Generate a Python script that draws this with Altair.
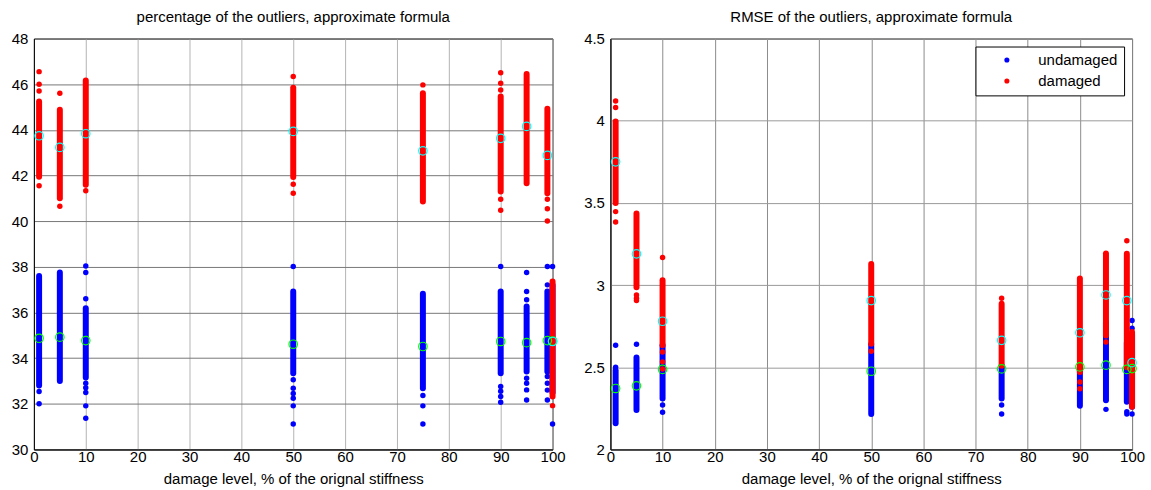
import altair as alt
import pandas as pd

# damage levels (% of the original stiffness) at which each cloud was computed
levels = [1, 5, 10, 50, 75, 90, 95, 99, 100]

# ---------- percentage of the outliers ----------
# continuous part of each cloud (low / high end)
pct_und_lo = [32.8, 33.0, 33.15, 33.34, 32.68, 33.34, 33.41, 33.41, 32.5]
pct_und_hi = [37.6, 37.75, 36.19, 36.92, 36.82, 36.92, 36.26, 36.92, 37.2]
pct_dam_lo = [41.95, 41.0, 41.6, 41.93, 40.86, 41.3, 41.66, 41.22, 32.32]
pct_dam_hi = [45.24, 44.88, 46.16, 45.85, 45.6, 45.46, 46.45, 44.92, 37.36]
# isolated samples outside the continuous part
pct_und_sparse = {
    1: [32.54, 32.0],
    10: [38.04, 37.75, 36.6, 32.9, 32.7, 32.5, 31.91, 31.37],
    50: [38.01, 33.05, 32.68, 32.45, 32.24, 31.91, 31.12],
    75: [32.36, 31.91, 31.12],
    90: [38.01, 32.76, 32.55, 32.32, 32.07],
    95: [37.75, 36.92, 36.56, 33.12, 32.9, 32.61, 32.17],
    99: [38.01, 37.21, 33.2, 32.9, 32.6, 32.17],
    100: [38.01, 31.12],
}
pct_dam_sparse = {
    1: [46.55, 46.0, 45.7, 41.55],
    5: [45.6, 40.65],
    10: [41.33],
    50: [46.34, 41.62, 41.22],
    75: [45.97],
    90: [46.5, 46.04, 45.75, 40.96, 40.48],
    99: [40.96, 40.54, 40.01],
    100: [31.92],
}
pct_und_mean = [34.87, 34.92, 34.77, 34.61, 34.51, 34.73, 34.68, 34.77, 34.75]
pct_dam_mean = [43.74, 43.23, 43.83, 43.93, 43.08, 43.63, 44.15, 42.88, 34.73]

# ---------- RMSE of the outliers ----------
rmse_und_lo = [2.16, 2.24, 2.31, 2.216, 2.31, 2.266, 2.3, 2.29, 2.26]
rmse_und_hi = [2.48, 2.56, 2.634, 2.64, 2.51, 2.5, 2.775, 2.65, 2.7]
rmse_dam_lo = [3.5, 2.987, 2.634, 2.643, 2.51, 2.472, 2.694, 2.5, 2.26]
rmse_dam_hi = [3.996, 3.436, 3.03, 3.128, 2.886, 3.04, 3.193, 3.19, 2.714]
rmse_und_sparse = {
    1: [2.634, 2.5],
    5: [2.64],
    10: [2.27, 2.226],
    75: [2.27, 2.216],
    95: [2.244],
    99: [2.23, 2.216],
    100: [2.785, 2.738, 2.216],
}
rmse_dam_sparse = {
    1: [4.12, 4.08, 3.447, 3.384],
    5: [2.94, 2.92, 2.906],
    10: [3.168, 2.593, 2.533, 2.49],
    50: [2.597],
    75: [2.92],
    90: [2.41, 2.37],
    95: [2.654],
    99: [3.27],
}
rmse_und_mean = [2.371, 2.387, 2.487, 2.476, 2.49, 2.502, 2.513, 2.487, 2.492]
rmse_dam_mean = [3.75, 3.19, 2.78, 2.906, 2.664, 2.71, 2.94, 2.906, 2.528]

x_ticks = list(range(0, 101, 10))
pct_ticks = list(range(30, 49, 2))
rmse_ticks = [2, 2.5, 3, 3.5, 4, 4.5]

BLUE, RED, CYAN, GREEN = "#0000ff", "#ff0000", "#00ffff", "#00ff00"
FONT = "Liberation Sans"
SERIES = ["undamaged", "damaged"]


def spans(lo, hi):
    return pd.DataFrame({"level": levels, "lo": lo, "hi": hi})


def dots(sparse, name):
    rows = [(k, v) for k, vs in sparse.items() for v in vs]
    return pd.DataFrame(rows, columns=["level", "value"]).assign(series=name)


def means(vals):
    return pd.DataFrame({"level": levels, "value": vals})


def panel(title, ydom, yticks, und, dam, w, h, legend, xgrid, ygrid):
    x = alt.X(
        "level:Q",
        scale=alt.Scale(domain=[0, 100], nice=False, zero=False, padding=0),
        axis=alt.Axis(values=x_ticks, title="damage level, % of the orignal stiffness",
                      gridColor=xgrid, format="d", labelPadding=0, titlePadding=7,
                      labelFlush=False, labelOverlap=False),
    )
    yscale = alt.Scale(domain=ydom, nice=False, zero=False, padding=0)
    yaxis = alt.Axis(values=yticks, title=None, gridColor=ygrid, format="~g",
                     minExtent=28, maxExtent=28, labelPadding=6,
                     labelFlush=False, labelOverlap=False)
    color = alt.Color("series:N", scale=alt.Scale(domain=SERIES, range=[BLUE, RED]),
                      legend=legend)

    layers = []
    for (lo, hi, sparse, _), name, col in zip([und, dam], SERIES, [BLUE, RED]):
        layers.append(
            alt.Chart(spans(lo, hi))
            .mark_rule(strokeWidth=6, strokeCap="round", color=col)
            .encode(x=x, y=alt.Y("lo:Q", scale=yscale, axis=yaxis), y2="hi:Q")
        )
        layers.append(
            alt.Chart(dots(sparse, name))
            .mark_circle(size=30, opacity=1)
            .encode(x=x, y=alt.Y("value:Q", scale=yscale, axis=yaxis), color=color)
        )
    for (_, _, _, mv), col in zip([und, dam], [GREEN, CYAN]):
        layers.append(
            alt.Chart(means(mv))
            .mark_point(shape="circle", filled=False, size=72, strokeWidth=1.2, color=col, opacity=1)
            .encode(x=x, y=alt.Y("value:Q", scale=yscale, axis=yaxis))
        )
    return alt.layer(*layers).properties(
        width=w, height=h,
        title=alt.Title(title, fontSize=15, fontWeight="normal", font=FONT, offset=7),
    )


legend_box = alt.Legend(
    title=None, orient="top-right", offset=8, fillColor="white", strokeColor="black",
    padding=6, symbolType="circle", symbolSize=26, symbolOffset=18, labelOffset=24,
    labelFontSize=15, labelFont=FONT, labelColor="black", rowPadding=5,
    symbolStrokeWidth=0,
)

left = panel(
    "percentage of the outliers, approximate formula", [30, 48], pct_ticks,
    (pct_und_lo, pct_und_hi, pct_und_sparse, pct_und_mean),
    (pct_dam_lo, pct_dam_hi, pct_dam_sparse, pct_dam_mean),
    520, 412, None, "#b4b4b4", "#777777",
)
right = panel(
    "RMSE of the outliers, approximate formula", [2, 4.5], rmse_ticks,
    (rmse_und_lo, rmse_und_hi, rmse_und_sparse, rmse_und_mean),
    (rmse_dam_lo, rmse_dam_hi, rmse_dam_sparse, rmse_dam_mean),
    523, 412, legend_box, "#8c8c8c", "#9a9a9a",
)

chart = (
    alt.hconcat(left, right, spacing=58, bounds="flush")
    .resolve_scale(color="independent")
    .properties(padding={"left": 5, "top": 8, "right": 5, "bottom": 2}, background="white")
    .configure_view(stroke="black", strokeWidth=1)
    .configure_axis(
        labelFont=FONT, labelFontSize=15, labelColor="black",
        titleFont=FONT, titleFontSize=15, titleFontWeight="normal", titleColor="black",
        domainColor="black", ticks=False,
        gridWidth=1, gridOpacity=1,
    )
)

chart.save("out.html", embed_options={"renderer": "svg", "actions": False})
